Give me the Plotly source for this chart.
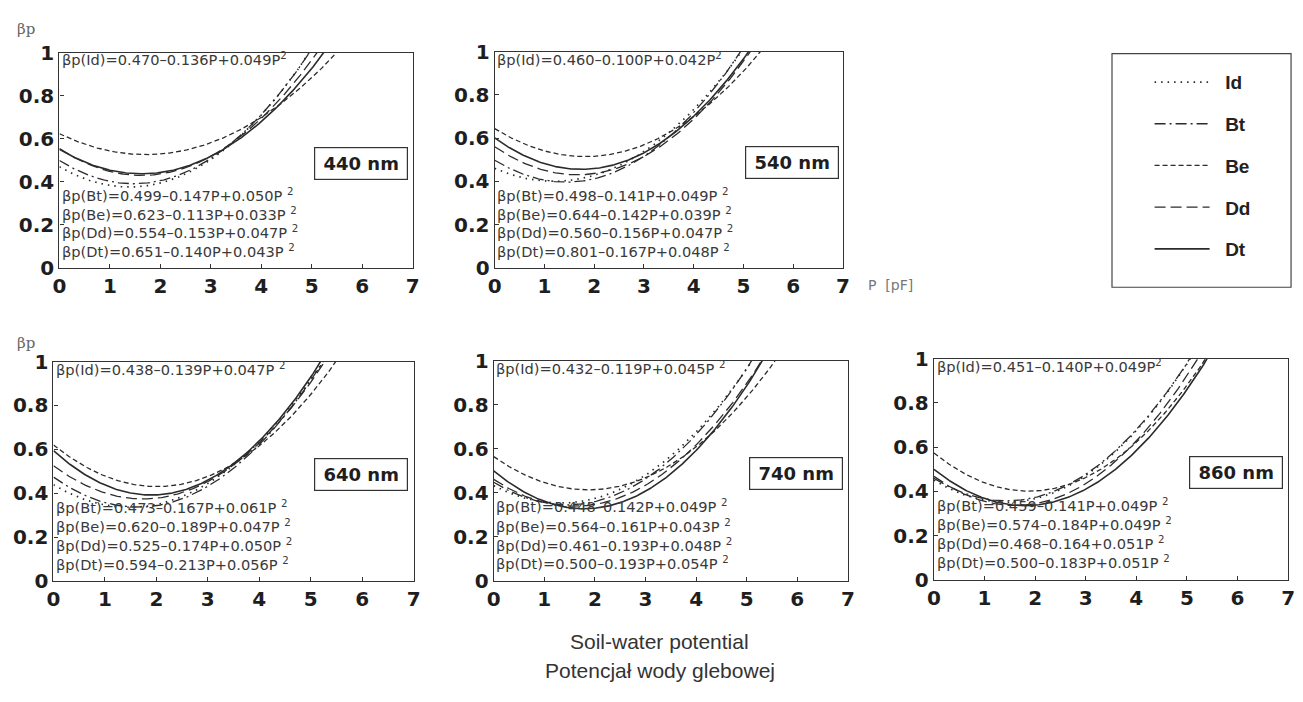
import numpy as np
import plotly.graph_objects as go

W, H = 1303, 702

# ---------------- data ----------------
wavelengths = ["440 nm", "540 nm", "640 nm", "740 nm", "860 nm"]
soils = ["Id", "Bt", "Be", "Dd", "Dt"]

# quadratic fits  βp = a0 - a1*P + a2*P^2  (per wavelength, per soil in order of `soils`)
a0_440 = [0.470, 0.499, 0.623, 0.554, 0.551]
a1_440 = [0.136, 0.147, 0.113, 0.153, 0.140]
a2_440 = [0.049, 0.050, 0.033, 0.047, 0.043]

a0_540 = [0.460, 0.498, 0.644, 0.560, 0.601]
a1_540 = [0.100, 0.141, 0.142, 0.156, 0.167]
a2_540 = [0.042, 0.049, 0.039, 0.047, 0.048]

a0_640 = [0.438, 0.473, 0.620, 0.525, 0.594]
a1_640 = [0.139, 0.167, 0.189, 0.174, 0.213]
a2_640 = [0.047, 0.051, 0.047, 0.050, 0.056]

a0_740 = [0.432, 0.448, 0.564, 0.461, 0.500]
a1_740 = [0.119, 0.142, 0.161, 0.153, 0.193]
a2_740 = [0.045, 0.049, 0.043, 0.048, 0.054]

a0_860 = [0.451, 0.459, 0.574, 0.468, 0.500]
a1_860 = [0.140, 0.141, 0.184, 0.164, 0.183]
a2_860 = [0.049, 0.049, 0.049, 0.051, 0.051]

# equation labels as printed on the figure
eq_440 = ["βp(Id)=0.470–0.136P+0.049P<sup>2</sup>", "βp(Bt)=0.499–0.147P+0.050P <sup>2</sup>",
          "βp(Be)=0.623–0.113P+0.033P <sup>2</sup>", "βp(Dd)=0.554–0.153P+0.047P <sup>2</sup>",
          "βp(Dt)=0.651–0.140P+0.043P <sup>2</sup>"]
eq_540 = ["βp(Id)=0.460–0.100P+0.042P<sup>2</sup>", "βp(Bt)=0.498–0.141P+0.049P <sup>2</sup>",
          "βp(Be)=0.644–0.142P+0.039P <sup>2</sup>", "βp(Dd)=0.560–0.156P+0.047P <sup>2</sup>",
          "βp(Dt)=0.801–0.167P+0.048P <sup>2</sup>"]
eq_640 = ["βp(Id)=0.438–0.139P+0.047P <sup>2</sup>", "βp(Bt)=0.473–0.167P+0.061P <sup>2</sup>",
          "βp(Be)=0.620–0.189P+0.047P <sup>2</sup>", "βp(Dd)=0.525–0.174P+0.050P <sup>2</sup>",
          "βp(Dt)=0.594–0.213P+0.056P <sup>2</sup>"]
eq_740 = ["βp(Id)=0.432–0.119P+0.045P <sup>2</sup>", "βp(Bt)=0.448–0.142P+0.049P <sup>2</sup>",
          "βp(Be)=0.564–0.161P+0.043P <sup>2</sup>", "βp(Dd)=0.461–0.193P+0.048P <sup>2</sup>",
          "βp(Dt)=0.500–0.193P+0.054P <sup>2</sup>"]
eq_860 = ["βp(Id)=0.451–0.140P+0.049P<sup>2</sup>", "βp(Bt)=0.459–0.141P+0.049P <sup>2</sup>",
          "βp(Be)=0.574–0.184P+0.049P <sup>2</sup>", "βp(Dd)=0.468–0.164+0.051P <sup>2</sup>",
          "βp(Dt)=0.500–0.183P+0.051P <sup>2</sup>"]

x_ticks = [0, 1, 2, 3, 4, 5, 6, 7]
y_ticks = [0, 0.2, 0.4, 0.6, 0.8, 1]
y_ticktext = ["0", "0.2", "0.4", "0.6", "0.8", "1"]
P_grid = np.linspace(0, 7, 281)  # soil-water potential, pF

coeffs = [(a0_440, a1_440, a2_440), (a0_540, a1_540, a2_540), (a0_640, a1_640, a2_640),
          (a0_740, a1_740, a2_740), (a0_860, a1_860, a2_860)]
equations = [eq_440, eq_540, eq_640, eq_740, eq_860]

# ---------------- style ----------------
INK = "#2b2b2b"
dashes = {"Id": "1.5px,5px", "Bt": "11px,4px,2px,4px", "Be": "5px,3px",
          "Dd": "11px,5px", "Dt": "solid"}
widths = {"Id": 1.7, "Bt": 1.3, "Be": 1.3, "Dd": 1.3, "Dt": 1.6}

# panel frames in pixels (left, right, top, bottom)
frames = [(53, 410, 42, 265), (493, 845, 41, 265),
          (47, 411, 362, 589), (492, 850, 361, 589), (937, 1295, 359, 588)]

TICKFONT = dict(family="DejaVu Sans", size=20, color="#1e1e1e", weight="bold")
NBSP = "\u00a0"

fig = go.Figure()

for k, (wl, (A0, A1, A2), eqs, fr) in enumerate(zip(wavelengths, coeffs, equations, frames)):
    xa = "x" if k == 0 else f"x{k+1}"
    ya = "y" if k == 0 else f"y{k+1}"
    for s, soil in enumerate(soils):
        beta = np.polyval([A2[s], -A1[s], A0[s]], P_grid)
        fig.add_trace(go.Scatter(
            x=P_grid, y=beta, mode="lines", name=NBSP * 2 + soil, xaxis=xa, yaxis=ya,
            legendgroup=soil, showlegend=(k == 0),
            line=dict(color=INK, width=widths[soil], dash=dashes[soil]),
            hoverinfo="skip"))
    l, r, t, b = fr
    axx = dict(domain=[l / W, r / W], range=[0, 7], tickvals=x_ticks,
               showline=True, linecolor="#333", linewidth=1.3, mirror=True,
               ticks="inside", ticklen=4, tickcolor="#333", showgrid=False, zeroline=False,
               tickfont=TICKFONT, anchor=ya, fixedrange=True)
    axy = dict(domain=[1 - b / H, 1 - t / H], range=[0, 1], tickvals=y_ticks, ticktext=y_ticktext,
               showline=True, linecolor="#333", linewidth=1.3, mirror=True,
               ticks="inside", ticklen=4, tickcolor="#333", showgrid=False, zeroline=False,
               tickfont=TICKFONT, anchor=xa, fixedrange=True)
    fig.layout["xaxis" if k == 0 else f"xaxis{k+1}"] = axx
    fig.layout["yaxis" if k == 0 else f"yaxis{k+1}"] = axy

    eqfont = dict(family="DejaVu Sans", size=14.6, color="#3a3a3a")
    fig.add_annotation(x=0.012, y=0.968, xref=xa, yref=ya, text=eqs[0], showarrow=False,
                       xanchor="left", yanchor="middle", font=eqfont)
    for j, yv in enumerate([0.338, 0.251, 0.165, 0.079]):
        fig.add_annotation(x=0.012, y=yv, xref=xa, yref=ya, text=eqs[j + 1], showarrow=False,
                           xanchor="left", yanchor="middle", font=eqfont)
    fig.add_annotation(x=5.97, y=0.487, xref=xa, yref=ya, text=f"<b>{wl}</b>", showarrow=False,
                       xanchor="center", yanchor="middle", width=88, height=27,
                       bordercolor="#333", borderwidth=1.2, borderpad=2, bgcolor="white",
                       font=dict(family="DejaVu Sans", size=18, color="#1e1e1e"))

# axis name labels
for yy in (18, 343):
    fig.add_annotation(x=8 / W, y=1 - yy / H, xref="paper", yref="paper", text="βp", showarrow=False,
                       xanchor="left", yanchor="middle",
                       font=dict(family="DejaVu Serif", size=15, color="#666"))
fig.add_annotation(x=868 / W, y=1 - 283 / H, xref="paper", yref="paper", text="P  [pF]", showarrow=False,
                   xanchor="left", yanchor="middle", font=dict(family="DejaVu Sans", size=14, color="#777"))
fig.add_annotation(x=660 / W, y=1 - 652 / H, xref="paper", yref="paper",
                   text="Soil-water potential", showarrow=False,
                   xanchor="center", yanchor="middle",
                   font=dict(family="Liberation Sans", size=21, color="#333"))
fig.add_annotation(x=660 / W, y=1 - 682 / H, xref="paper", yref="paper",
                   text="Potencjał wody glebowej", showarrow=False,
                   xanchor="center", yanchor="middle",
                   font=dict(family="Liberation Sans", size=21, color="#333"))

# legend frame
fig.add_shape(type="rect", xref="paper", yref="paper", x0=1117 / W, x1=1298 / W,
              y0=1 - 285 / H, y1=1 - 43 / H, line=dict(color="#444", width=1.2))

fig.update_layout(
    width=W, height=H, margin=dict(l=0, r=0, t=0, b=0),
    paper_bgcolor="white", plot_bgcolor="white",
    showlegend=True,
    legend=dict(x=1155 / W, y=1 - 53 / H, xanchor="left", yanchor="top",
                bgcolor="rgba(0,0,0,0)", borderwidth=0, tracegroupgap=14, itemwidth=55,
                font=dict(family="Liberation Sans", size=19, color="#222", weight="bold")),
)

fig.write_html("out.html", config={"displayModeBar": False},
               post_script="document.body.style.margin='0px';")
